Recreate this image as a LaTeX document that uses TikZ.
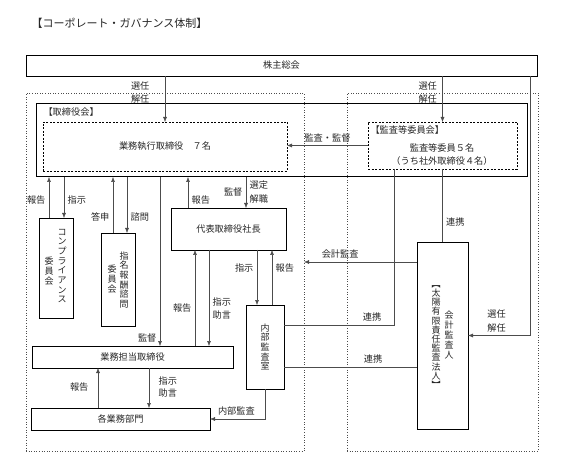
\documentclass[tikz,border=0pt]{standalone}
\usepackage{fontspec}
\setmainfont{Noto Sans CJK JP}
\usetikzlibrary{arrows.meta}

\begin{document}
\begin{tikzpicture}[x=1pt, y=-1pt, text=black!85, font=\fontsize{9.2}{10}\selectfont,
  box/.style={draw, line width=0.8pt, anchor=north west, outer sep=0pt, inner sep=0pt},
  dashbox/.style={box, dash pattern=on 2pt off 1.5pt},
  dotbox/.style={draw=black!70, dotted, line width=0.6pt, anchor=north west, outer sep=0pt, inner sep=0pt},
  arr/.style={draw=black!70, line width=0.5pt, -{Latex[length=5pt,width=4pt]}},
  link/.style={draw=black!70, line width=0.5pt},
  tate/.style={align=center, font=\fontsize{9}{9.7}\selectfont, inner sep=0pt},
  lbl2/.style={align=center, font=\fontsize{9.2}{13.5}\selectfont}]
\useasboundingbox (0,0) rectangle (562,470);

\node[anchor=west, font=\fontsize{11}{13}\selectfont] (title) at (28,23) {【コーポレート・ガバナンス体制】};

% 株主総会・枠
\node[box, minimum width=511pt, minimum height=21pt] (sh) at (26,55) {株主総会};
\node[dotbox, minimum width=278pt, minimum height=358pt] (ldot) at (26,93) {};
\node[dotbox, minimum width=191pt, minimum height=358pt] (rdot) at (347,93) {};

% 取締役会
\node[box, line width=1pt, minimum width=491pt, minimum height=73pt] (board) at (36,104) {};
\node[anchor=west] (boardlbl) at (40,112) {【取締役会】};
\node[dashbox, minimum width=244pt, minimum height=49pt] (exec) at (43,122) {業務執行取締役　７名};
\node[dashbox, minimum width=149pt, minimum height=47pt] (audit) at (368,122) {};
\node[anchor=west] (auditlbl) at (367,130) {【監査等委員会】};
\node[lbl2, text depth=0pt, font=\fontsize{9.2}{12.5}\selectfont] (auditn) at (442,154) {監査等委員５名\\（うち社外取締役４名）};

% 委員会
\node[box, minimum width=34pt, minimum height=100pt] (comp) at (39,218) {};
\node[tate] (comp1) at (62,266) {コ\\ン\\プ\\ラ\\イ\\ア\\ン\\ス};
\node[tate] (comp2) at (49,271) {委\\員\\会};
\node[box, minimum width=34pt, minimum height=93pt] (nom) at (101,233) {};
\node[tate] (nom1) at (124,280) {指\\名\\報\\酬\\諮\\問};
\node[tate] (nom2) at (112,279) {委\\員\\会};

% 執行
\node[box, minimum width=115pt, minimum height=42pt] (ceo) at (171,208) {代表取締役社長};
\node[box, minimum width=38pt, minimum height=84pt, align=center, font=\fontsize{9}{9.7}\selectfont] (ia) at (246,305) {内\\部\\監\\査\\室};
\node[box, minimum width=201pt, minimum height=22pt] (dirs) at (32,346) {業務担当取締役};
\node[box, minimum width=179pt, minimum height=22pt] (depts) at (31,408) {各業務部門};

% 会計監査人
\node[box, minimum width=51pt, minimum height=187pt] (ca) at (417,242) {};
\node[tate, font=\fontsize{9}{10}\selectfont] (ca1) at (449,335) {会\\計\\監\\査\\人};
\node[tate, font=\fontsize{9}{9.2}\selectfont] (ca2) at (436,337) {︻\\太\\陽\\有\\限\\責\\任\\監\\査\\法\\人\\︼};

% 株主総会から
\draw[arr] (exec.north |- sh.south) -- node[pos=0.36, left=12pt, lbl2] {選任\\解任} (exec.north);
\draw[arr] (audit.north |- sh.south) -- node[pos=0.36, left=2pt, lbl2] {選任\\解任} (audit.north);
\draw[arr] ([xshift=-7pt]sh.south east) |- node[pos=0.77, above, lbl2] {選任\\解任} (ca.east);

% 監査等委員会・会計監査人
\draw[arr] (audit.west) -- node[above] {監査・監督} (audit.west -| exec.east);
\draw[link] ([xshift=-48.5pt]audit.south) |- node[pos=0.6, above] {連携} ([yshift=22pt]ia.east);
\draw[link] (audit.south) -- node[pos=0.73, right] {連携} (ca.north);
\draw[arr] ([yshift=73.5pt]ca.west) -- node[pos=0.68, above] {会計監査} ([yshift=73.5pt]ca.west -| ldot.east);
\draw[link] ([yshift=-20pt]ia.east) -- node[pos=0.67, above] {連携} ([yshift=-20pt]ia.east -| ca.west);

% 取締役会と委員会
\draw[arr] ([xshift=-7pt]comp.north) -- node[pos=0.44, left] {報告} ([xshift=-7pt]comp.north |- board.south);
\draw[arr] ([xshift=8pt]comp.north |- board.south) -- node[pos=0.56, right] {指示} ([xshift=8pt]comp.north);
\draw[arr] ([xshift=-5pt]nom.north) -- node[pos=0.29, left] {答申} ([xshift=-5pt]nom.north |- board.south);
\draw[arr] ([xshift=9pt]nom.north |- board.south) -- node[pos=0.71, right] {諮問} ([xshift=9pt]nom.north);

% 取締役会と執行
\draw[arr] ([xshift=27.5pt]dirs.north |- board.south) -- node[pos=0.95, left] {監督} ([xshift=27.5pt]dirs.north);
\draw[arr] ([xshift=-40.5pt]ceo.north) -- node[pos=0.26, right] {報告} ([xshift=-40.5pt]ceo.north |- board.south);
\draw[arr] ([xshift=17.5pt]ceo.north |- board.south) -- node[pos=0.48, left] {監督} node[pos=0.48, right, lbl2] {選定\\解職} ([xshift=17.5pt]ceo.north);
\draw[arr] ([xshift=-33.5pt]ceo.south |- dirs.north) -- node[pos=0.4, left] {報告} ([xshift=-33.5pt]ceo.south);
\draw[arr] ([xshift=-19.5pt]ceo.south) -- node[pos=0.61, right, lbl2, font=\fontsize{9.2}{12.5}\selectfont] {指示\\助言} ([xshift=-19.5pt]ceo.south |- dirs.north);
\draw[arr] ([xshift=-8pt]ia.north |- ceo.south) -- node[pos=0.33, left] {指示} ([xshift=-8pt]ia.north);
\draw[arr] ([xshift=7pt]ia.north) -- node[pos=0.67, right] {報告} ([xshift=7pt]ia.north |- ceo.south);
\draw[arr] ([xshift=-22.5pt]depts.north) -- node[pos=0.52, left=6pt] {報告} ([xshift=-22.5pt]depts.north |- dirs.south);
\draw[arr] ([xshift=28.5pt]depts.north |- dirs.south) -- node[pos=0.48, right=6pt, lbl2, font=\fontsize{9.2}{12.5}\selectfont] {指示\\助言} ([xshift=28.5pt]depts.north);
\draw[arr] (ia.south) |- node[pos=0.76, above] {内部監査} (depts.east);
\end{tikzpicture}
\end{document}
